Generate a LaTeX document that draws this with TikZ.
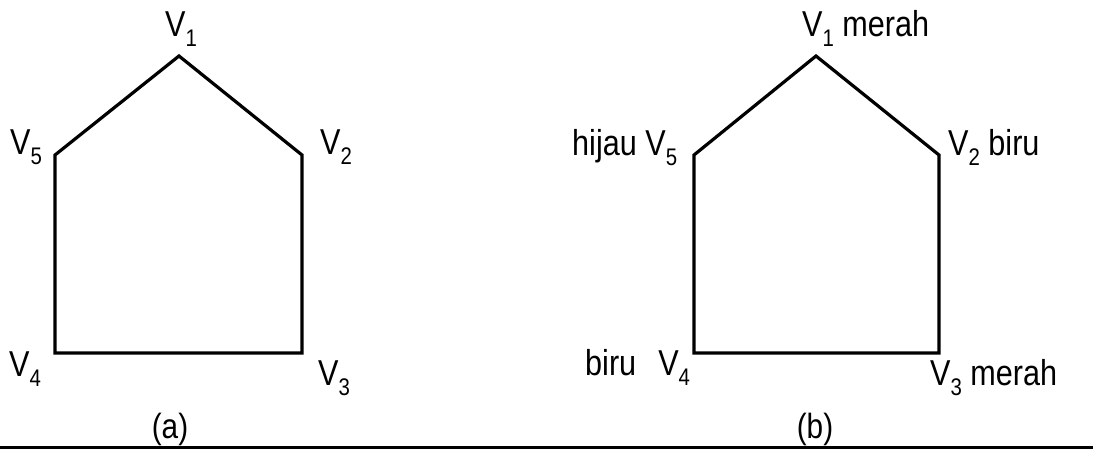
\documentclass[tikz,border=0pt]{standalone}
\usepackage{fontspec}
\usepackage{graphicx}
\setmainfont{Liberation Sans}
\newcommand\Vsub[1]{V\raisebox{-10pt}{\fontsize{24}{24}\selectfont #1}}
\newcommand\narrow[1]{\scalebox{0.85}[1]{#1}}
\tikzset{
  edge/.style={line width=3.2pt, line join=miter},
  lbl/.style={inner sep=0pt, anchor=base west, font=\fontsize{36}{36}\selectfont},
  captext/.style={inner sep=0pt, anchor=base, font=\fontsize{35}{35}\selectfont}
}
\begin{document}
\begin{tikzpicture}[x=1pt,y=-1pt]
\useasboundingbox (0,0) rectangle (1093,449);
% (a)
\coordinate (a1) at (179,56);
\coordinate (a2) at (302,155);
\coordinate (a3) at (302,353);
\coordinate (a4) at (55,353);
\coordinate (a5) at (55,155);
\draw[edge] (a1) -- (a2) -- (a3) -- (a4) -- (a5) -- cycle;
\node[lbl] (la1) at (165,37) {\narrow{\Vsub{1}}};
\node[lbl] (la2) at (320,155) {\narrow{\Vsub{2}}};
\node[lbl] (la3) at (318,385) {\narrow{\Vsub{3}}};
\node[lbl] (la4) at (9,376) {\narrow{\Vsub{4}}};
\node[lbl] (la5) at (10,155) {\narrow{\Vsub{5}}};
\node[captext] (capa) at (170,438) {\narrow{(a)}};
% (b)
\coordinate (b1) at (816,56);
\coordinate (b2) at (939,155);
\coordinate (b3) at (939,353);
\coordinate (b4) at (694,353);
\coordinate (b5) at (694,155);
\draw[edge] (b1) -- (b2) -- (b3) -- (b4) -- (b5) -- cycle;
\node[lbl] (lb1) at (802,37) {\narrow{\Vsub{1} merah}};
\node[lbl] (lb2) at (948,156) {\narrow{\Vsub{2} biru}};
\node[lbl] (lb3) at (930,385) {\narrow{\Vsub{3} merah}};
\node[lbl] (lb4) at (585,375) {\narrow{biru\hspace{26pt}\Vsub{4}}};
\node[lbl] (lb5) at (572,156) {\narrow{hijau \Vsub{5}}};
\node[captext] (capb) at (815,438) {\narrow{(b)}};
% bottom rule
\coordinate (r0) at (0,447.5);
\coordinate (r1) at (1093,447.5);
\draw[line width=3pt] (r0) -- (r1);
\end{tikzpicture}
\end{document}
